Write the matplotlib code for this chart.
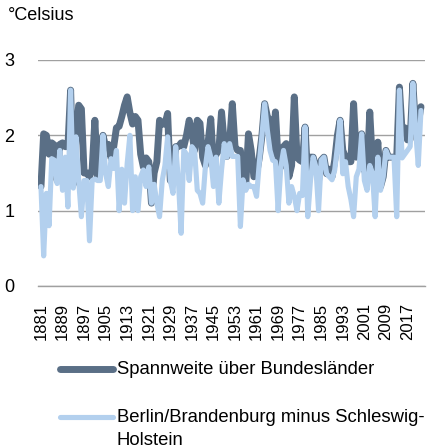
import matplotlib
matplotlib.use("Agg")
import matplotlib.pyplot as plt
from matplotlib.lines import Line2D

plt.rcParams['font.family'] = ['Liberation Sans', 'DejaVu Sans']

# Jahre 1881-2022
years = list(range(1881, 2023))

# Spannweite der Jahresmitteltemperatur über alle Bundesländer
spannweite = [
    1.32, 2.02, 2.00, 1.75, 1.90, 1.87, 1.40, 1.88, 1.90, 1.85,  # 1881-1890
    1.85, 2.60, 1.35, 1.98, 2.40, 2.35, 1.50, 1.50, 1.45, 1.55,  # 1891-1900
    2.20, 1.45, 1.75, 2.00, 1.85, 1.88, 1.70, 1.85, 2.10, 2.12,  # 1901-1910
    2.25, 2.40, 2.51, 2.30, 2.15, 2.25, 2.20, 1.75, 1.58, 1.70,  # 1911-1920
    1.65, 1.10, 1.50, 1.65, 2.20, 2.15, 2.15, 2.29, 1.40, 1.45,  # 1921-1930
    1.85, 1.85, 1.90, 1.85, 2.00, 2.20, 2.05, 1.80, 2.20, 2.16,  # 1931-1940
    1.71, 1.60, 1.90, 2.22, 1.63, 1.75, 1.80, 2.31, 1.90, 1.72,  # 1941-1950
    1.90, 2.42, 1.85, 1.80, 1.80, 1.41, 1.35, 2.02, 1.80, 1.45,  # 1951-1960
    1.49, 1.70, 2.00, 2.42, 2.25, 2.20, 1.75, 2.31, 1.67, 1.58,  # 1961-1970
    1.85, 1.89, 1.45, 1.60, 2.51, 1.71, 1.67, 1.65, 2.11, 1.40,  # 1971-1980
    1.71, 1.71, 1.58, 1.40, 1.67, 1.71, 1.49, 1.55, 1.45, 1.67,  # 1981-1990
    2.00, 2.20, 1.80, 1.71, 1.65, 1.65, 2.42, 1.71, 1.80, 2.02,  # 1991-2000
    1.54, 1.45, 2.31, 1.63, 1.55, 1.91, 1.32, 1.45, 1.80, 1.71,  # 2001-2010
    1.71, 1.71, 1.71, 2.64, 2.05, 2.10, 1.94, 1.95, 2.69, 2.10,  # 2011-2020
    2.16, 2.38,                                                  # 2021-2022
]

# Differenz Berlin/Brandenburg minus Schleswig-Holstein
bb_minus_sh = [
    1.32, 0.40, 1.23, 0.80, 1.69, 1.67, 1.36, 1.80, 1.27, 1.71,  # 1881-1890
    1.05, 2.60, 1.30, 1.98, 1.40, 0.92, 1.40, 1.40, 0.60, 1.40,  # 1891-1900
    1.42, 1.40, 1.40, 2.00, 1.49, 1.32, 1.69, 1.56, 1.80, 1.00,  # 1901-1910
    1.55, 1.10, 1.63, 2.00, 1.00, 1.45, 1.00, 1.45, 1.54, 1.32,  # 1911-1920
    1.58, 1.10, 1.35, 1.10, 0.92, 1.40, 1.60, 1.98, 1.40, 1.23,  # 1921-1930
    1.85, 1.40, 0.70, 1.80, 1.75, 1.40, 1.85, 1.80, 1.27, 1.23,  # 1931-1940
    1.10, 1.58, 1.85, 1.71, 1.32, 1.71, 1.10, 1.54, 1.89, 1.71,  # 1941-1950
    1.89, 1.72, 1.72, 1.72, 0.79, 1.41, 1.27, 1.35, 1.32, 1.32,  # 1951-1960
    1.19, 1.63, 2.00, 2.42, 2.07, 1.80, 1.67, 1.65, 1.00, 1.58,  # 1961-1970
    1.80, 1.60, 1.10, 1.32, 1.19, 1.00, 1.23, 1.20, 2.11, 0.92,  # 1971-1980
    1.40, 1.71, 1.58, 1.00, 1.67, 1.71, 1.49, 1.45, 1.41, 1.54,  # 1981-1990
    1.85, 2.20, 1.49, 1.65, 1.32, 1.15, 0.92, 1.45, 1.55, 2.02,  # 1991-2000
    1.40, 1.27, 1.60, 1.50, 0.92, 1.71, 1.27, 1.45, 1.80, 1.71,  # 2001-2010
    1.71, 1.71, 0.92, 2.60, 1.70, 1.75, 1.80, 1.85, 2.69, 2.07,  # 2011-2020
    1.60, 2.33,                                                  # 2021-2022
]

tick_years = list(range(1881, 2018, 8))
y_ticks = [0, 1, 2, 3]

dark = '#5a6f86'
light = '#b3d0ee'
grid_col = '#a0a0a0'

fig = plt.figure(figsize=(4.38, 4.48), dpi=100)
ax = fig.add_axes([38 / 438, 162 / 448, 387 / 438, 226 / 448])

ax.plot(years, spannweite, color=dark, lw=5.0, solid_joinstyle='round',
        solid_capstyle='round', zorder=3)
ax.plot(years, bb_minus_sh, color=light, lw=3.7, solid_joinstyle='round',
        solid_capstyle='round', zorder=4)

ax.set_xlim(1879.9, 2023.5)
ax.set_ylim(0, 3)
ax.set_yticks(y_ticks)
ax.set_yticklabels([str(t) for t in y_ticks], fontsize=13)
ax.set_xticks(tick_years)
ax.set_xticklabels([str(t) for t in tick_years], rotation=90, fontsize=12)
ax.tick_params(axis='both', length=0)
ax.tick_params(axis='x', pad=12)
ax.tick_params(axis='y', pad=17)
ax.grid(axis='y', color=grid_col, lw=1)
ax.set_axisbelow(True)
for s in ['top', 'right', 'left']:
    ax.spines[s].set_visible(False)
ax.spines['bottom'].set_color(grid_col)
ax.spines['bottom'].set_linewidth(1)

fig.text(8 / 438, 1 - 15 / 448, '°Celsius', fontsize=13, va='center', ha='left')

# Legende
def fy(py):
    return 1 - py / 448

fig.add_artist(Line2D([60 / 438, 113 / 438], [fy(369), fy(369)], color=dark, lw=5.0,
                      solid_capstyle='round'))
fig.text(117 / 438, fy(369), 'Spannweite über Bundesländer', fontsize=13.3, va='center')
fig.add_artist(Line2D([60 / 438, 113 / 438], [fy(417), fy(417)], color=light, lw=3.7,
                      solid_capstyle='round'))
fig.text(117 / 438, fy(417), 'Berlin/Brandenburg minus Schleswig-', fontsize=13.3, va='center')
fig.text(117 / 438, fy(440), 'Holstein', fontsize=13.3, va='center')

fig.savefig('out.png', dpi=100)
